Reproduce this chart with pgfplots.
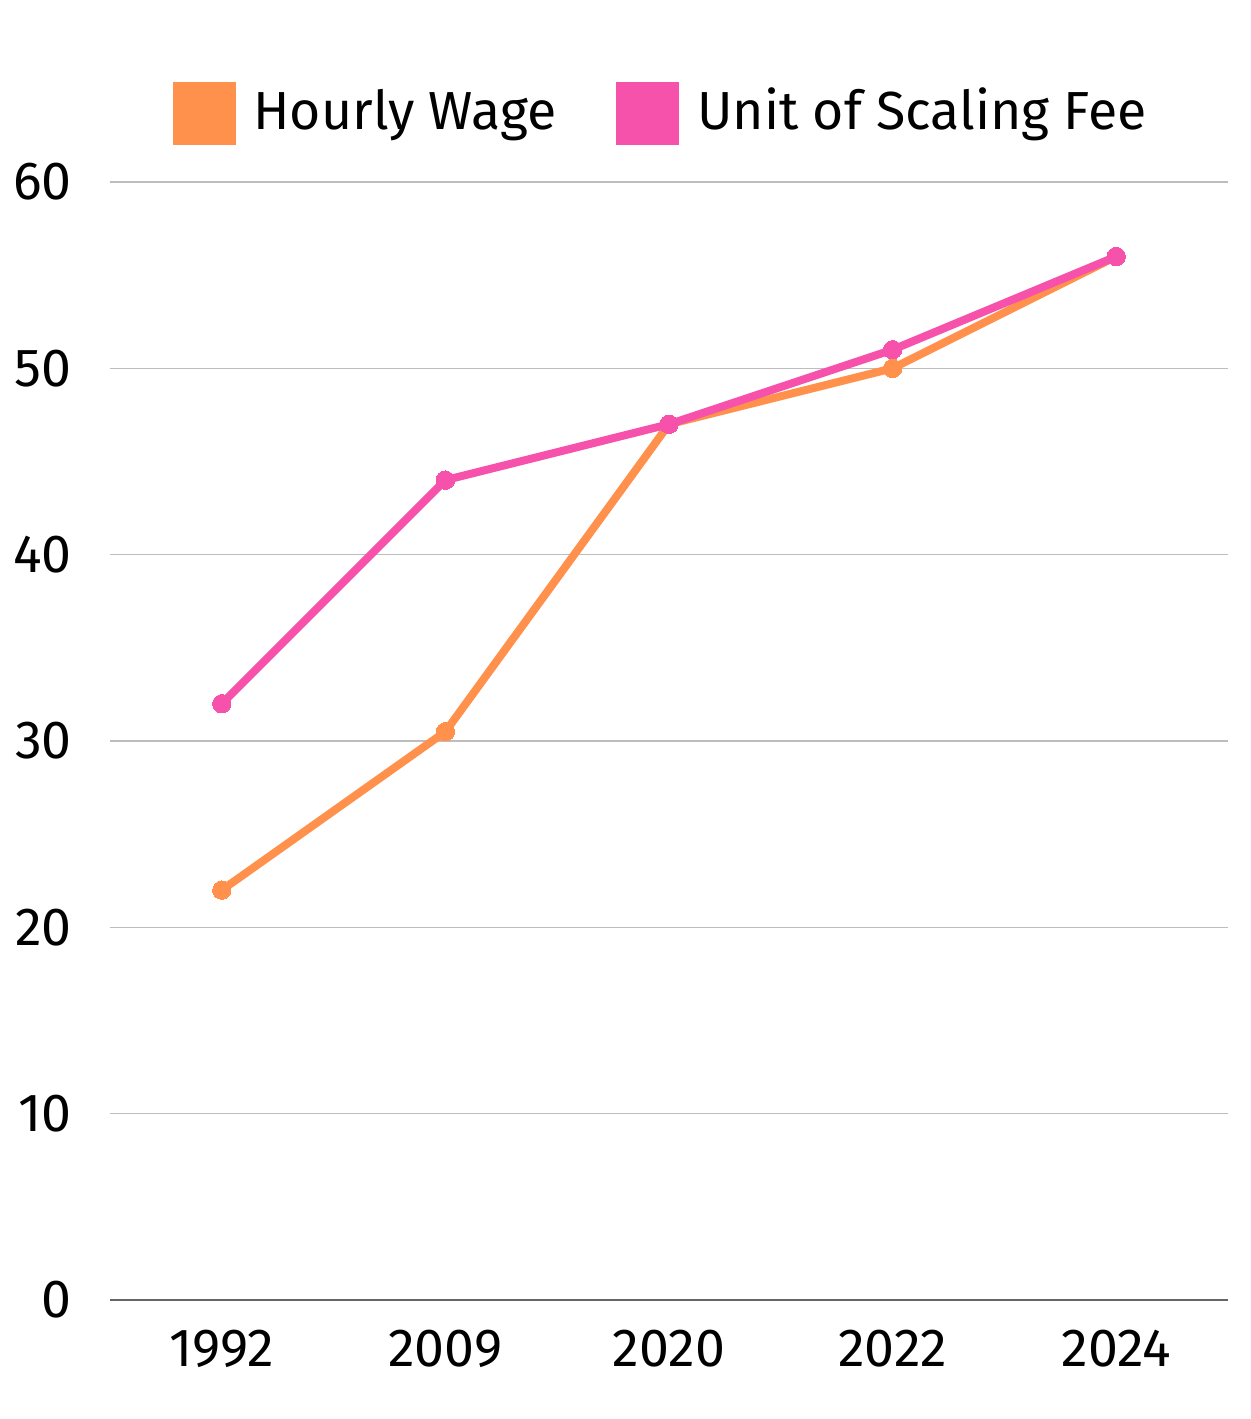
\documentclass[border=0pt]{standalone}
\usepackage{fontspec}
\setmainfont{Fira Sans}
\usepackage{pgfplots}
\pgfplotsset{compat=1.18}
\definecolor{wage}{HTML}{FF914D}
\definecolor{fee}{HTML}{F652AB}
\definecolor{gridc}{HTML}{BDBDBD}
\begin{document}
\fontsize{26.8}{31}\selectfont
\begin{tikzpicture}
\path[use as bounding box] (0,0) rectangle (625pt,709.5pt);
\begin{axis}[
  at={(55pt,59.5pt)}, anchor=south west,
  scale only axis, width=559pt, height=559pt,
  xmin=-0.5, xmax=4.5, ymin=0, ymax=60,
  xtick={0,1,2,3,4}, xticklabels={1992,2009,2020,2022,2024},
  ytick={0,10,20,30,40,50,60},
  /pgf/number format/assume math mode=true,
  ticklabel style={font=\fontsize{26.8}{31}\selectfont},
  major tick length=0pt,
  xticklabel style={yshift=-6pt},
  yticklabel style={xshift=-10pt},
  ymajorgrids, grid style={gridc, line width=0.7pt},
  axis x line*=bottom, axis y line*=left,
  x axis line style={draw=black!60, line width=0.75pt, -},
  y axis line style={draw=none},
  clip=false,
  legend columns=2,
  legend style={at={(0.4933,1.0617)}, anchor=center, draw=none, fill=none,
    font=\fontsize{26.8}{31}\selectfont,
    /tikz/every odd column/.append style={column sep=7pt},
    /tikz/every even column/.append style={column sep=28pt}},
  legend image code/.code={\fill[#1, draw=none] (0pt,-15.75pt) rectangle (31.5pt,15.75pt);},
]
\addplot[wage, line width=4pt, mark=*, mark size=4.6pt, mark options={fill=wage, draw=wage, line width=0pt}] coordinates {(0,22) (1,30.5) (2,47) (3,50) (4,56)};
\addlegendentry{Hourly Wage}
\addplot[fee, line width=4pt, mark=*, mark size=4.6pt, mark options={fill=fee, draw=fee, line width=0pt}] coordinates {(0,32) (1,44) (2,47) (3,51) (4,56)};
\addlegendentry{Unit of Scaling Fee}
\end{axis}
\end{tikzpicture}
\end{document}
